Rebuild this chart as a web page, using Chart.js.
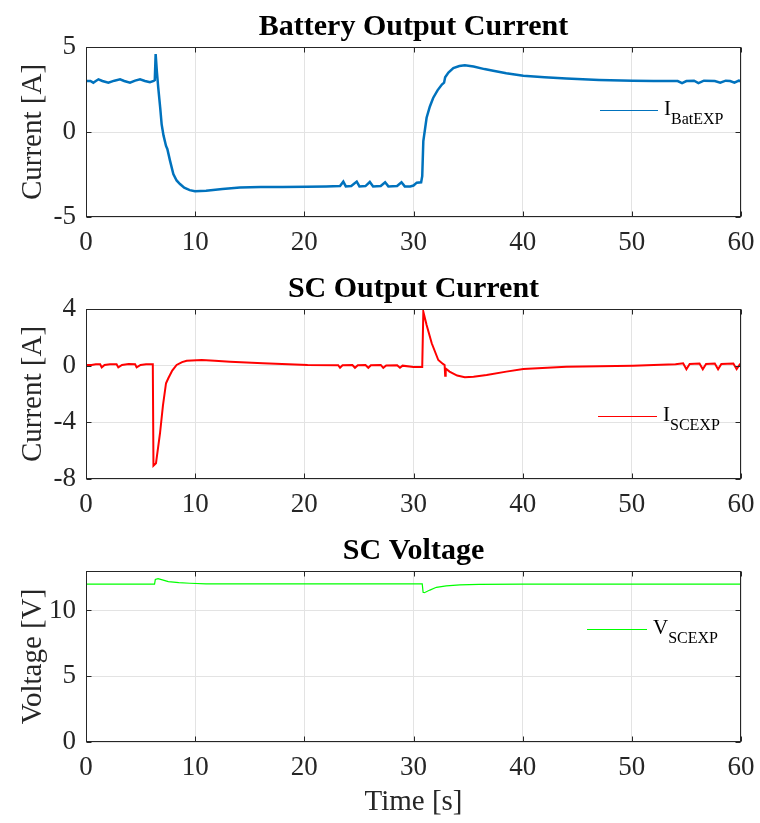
<!DOCTYPE html>
<html>
<head>
<meta charset="utf-8">
<script src="https://cdn.jsdelivr.net/npm/chart.js@4/dist/chart.umd.min.js"></script>
<style>
  body { margin: 0; background: #fff; }
  .wrap { position: absolute; left: 0; width: 760px; }
</style>
</head>
<body>
<div class="wrap" style="top:0"><canvas id="chartBat" width="760" height="262"></canvas></div>
<div class="wrap" style="top:262px"><canvas id="chartSC" width="760" height="262"></canvas></div>
<div class="wrap" style="top:524px"><canvas id="chartV" width="760" height="299"></canvas></div>
<script>
// battery output current (A)
const batT = [0, 0.4, 0.67, 0.9, 1.14, 1.5, 2.05, 2.6, 3.12, 3.5, 4.03, 4.5, 4.95, 5.4, 5.86, 6.2, 6.3, 6.38, 6.5, 6.62, 6.8, 6.93, 7.1, 7.33, 7.45, 7.7, 8.0, 8.3, 8.61, 9.0, 9.5, 9.98, 11, 12.5, 14.1, 16, 18, 20.2, 22, 23.27, 23.57, 23.8, 24.3, 24.8, 25.05, 25.6, 26.0, 26.3, 27.0, 27.4, 27.7, 28.5, 28.9, 29.2, 29.7, 30.0, 30.3, 30.7, 30.8, 30.9, 31.2, 31.5, 31.8, 32.2, 32.6, 32.8, 32.9, 33.2, 33.65, 34.2, 34.7, 35.5, 36.5, 37.3, 38.5, 40.06, 42, 44, 47, 50.1, 52, 54.2, 54.6, 55.0, 55.7, 56.1, 56.6, 57.6, 58.1, 58.6, 59.0, 59.4, 59.8, 60];
const batI = [3.0, 3.0, 2.9, 3.0, 3.1, 3.0, 2.9, 3.02, 3.1, 3.0, 2.9, 3.02, 3.1, 3.0, 2.93, 3.0, 3.05, 4.58, 3.5, 2.6, 1.4, 0.45, -0.2, -0.82, -1.0, -1.7, -2.47, -2.85, -3.06, -3.28, -3.42, -3.49, -3.45, -3.35, -3.26, -3.24, -3.23, -3.22, -3.2, -3.18, -2.92, -3.2, -3.18, -2.92, -3.2, -3.18, -2.94, -3.2, -3.18, -2.96, -3.2, -3.18, -2.96, -3.2, -3.2, -3.15, -2.98, -2.96, -2.6, -0.53, 0.84, 1.5, 2.0, 2.45, 2.79, 2.9, 3.22, 3.5, 3.76, 3.88, 3.92, 3.85, 3.7, 3.6, 3.45, 3.31, 3.22, 3.14, 3.06, 3.02, 3.0, 3.0, 2.88, 3.0, 3.02, 2.88, 3.02, 3.0, 2.9, 3.02, 3.0, 2.9, 3.02, 3.0];

// supercapacitor output current (A)
const scT = [0, 0.5, 0.9, 1.3, 1.44, 1.7, 2.2, 2.8, 2.96, 3.3, 3.9, 4.5, 4.64, 5.0, 5.5, 6.12, 6.18, 6.41, 6.78, 7.05, 7.33, 7.54, 7.9, 8.3, 8.8, 9.22, 10.6, 11.8, 13.2, 16.2, 20.3, 23.1, 23.27, 23.5, 24.4, 24.64, 24.9, 25.6, 25.86, 26.1, 27.0, 27.23, 27.5, 28.5, 28.76, 29.0, 30.0, 30.8, 30.9, 31.2, 31.67, 32.27, 32.7, 32.85, 32.9, 32.95, 33.3, 34.0, 34.7, 35.5, 36.7, 38.5, 40.06, 44, 50.1, 52, 54.0, 54.7, 55.0, 55.3, 56.2, 56.5, 56.8, 57.6, 57.9, 58.2, 59.3, 59.6, 59.9, 60];
const scI = [0.05, 0.05, 0.1, 0.1, -0.12, 0.05, 0.1, 0.1, -0.12, 0.05, 0.12, 0.1, -0.12, 0.05, 0.1, 0.1, -7.06, -6.89, -4.77, -2.8, -1.24, -0.89, -0.35, 0.05, 0.25, 0.35, 0.4, 0.35, 0.28, 0.17, 0.05, 0.03, -0.15, 0.03, 0.05, -0.15, 0.03, 0.05, -0.15, 0.03, 0.05, -0.15, 0.02, 0.03, -0.15, 0.0, -0.1, -0.1, 3.81, 2.87, 1.58, 0.4, 0.12, 0.05, -0.72, -0.2, -0.42, -0.7, -0.82, -0.78, -0.66, -0.42, -0.23, -0.07, 0.0, 0.05, 0.1, 0.17, -0.25, 0.12, 0.15, -0.25, 0.12, 0.15, -0.25, 0.12, 0.15, -0.25, 0.1, 0.1];

// supercapacitor voltage (V)
const vT = [0, 6.28, 6.35, 6.6, 7.0, 7.54, 8.5, 9.5, 11, 20, 30.8, 30.88, 31.0, 31.5, 32.1, 33, 34.25, 36, 40, 50, 60];
const vV = [12.0, 12.0, 12.35, 12.42, 12.32, 12.19, 12.12, 12.07, 12.02, 12.02, 12.02, 11.38, 11.35, 11.55, 11.76, 11.87, 11.94, 11.98, 12.0, 12.0, 12.0];

const serif = "'Liberation Serif', 'Times New Roman', serif";

function toPoints(xs, ys) {
    return xs.map((x, i) => ({x: x, y: ys[i]}));
}

// box around the plot with inward ticks on all four sides
const boxPlugin = {
    id: 'box',
    afterDraw(chart) {
        const ctx = chart.ctx;
        const a = chart.chartArea;
        const x = chart.scales.x;
        const y = chart.scales.y;
        const L = Math.round(a.left) + 0.5, R = Math.round(a.right) - 0.5;
        const T = Math.round(a.top) + 0.5, B = Math.round(a.bottom) - 0.5;
        ctx.save();
        ctx.strokeStyle = '#262626';
        ctx.lineWidth = 1;
        ctx.strokeRect(L, T, R - L, B - T);
        ctx.beginPath();
        x.ticks.forEach(t => {
            const px = Math.round(x.getPixelForValue(t.value)) + 0.5;
            ctx.moveTo(px, B); ctx.lineTo(px, B - 5);
            ctx.moveTo(px, T); ctx.lineTo(px, T + 5);
        });
        y.ticks.forEach(t => {
            const py = Math.round(y.getPixelForValue(t.value)) + 0.5;
            ctx.moveTo(L, py); ctx.lineTo(L + 5, py);
            ctx.moveTo(R, py); ctx.lineTo(R - 5, py);
        });
        ctx.stroke();
        ctx.restore();
    }
};

// legend with a subscripted label, like I_BatEXP
const subLegend = {
    id: 'subLegend',
    afterDraw(chart, args, opts) {
        const ctx = chart.ctx;
        const a = chart.chartArea;
        const x0 = a.right - opts.dx, x1 = x0 + opts.len;
        const y0 = a.top + opts.dy;
        ctx.save();
        ctx.strokeStyle = opts.color;
        ctx.lineWidth = 1;
        ctx.beginPath();
        ctx.moveTo(x0, y0 + 0.5);
        ctx.lineTo(x1, y0 + 0.5);
        ctx.stroke();
        ctx.fillStyle = '#000';
        ctx.textBaseline = 'alphabetic';
        ctx.font = '21px ' + serif;
        const tx = x1 + 6;
        ctx.fillText(opts.main, tx, y0 + 5);
        const w = ctx.measureText(opts.main).width;
        ctx.font = '16px ' + serif;
        ctx.fillText(opts.sub, tx + w, y0 + 14);
        ctx.restore();
    }
};

function makeChart(id, pts, color, width, title, yLabel, yMin, yMax, yStep, legend, xTitle, xHeight) {
    return new Chart(document.getElementById(id), {
        type: 'line',
        data: {
            datasets: [{
                data: pts,
                borderColor: color,
                borderWidth: width,
                pointRadius: 0,
                tension: 0,
                fill: false
            }]
        },
        options: {
            responsive: false,
            animation: false,
            layout: {padding: {left: 0, right: 19, top: 0, bottom: 0}},
            plugins: {
                legend: {display: false},
                tooltip: {enabled: false},
                title: {
                    display: true,
                    fullSize: false,
                    text: title,
                    color: '#000',
                    font: {family: serif, size: 30, weight: 'bold', lineHeight: 1.2},
                    padding: {top: 9, bottom: 2}
                },
                subLegend: legend
            },
            scales: {
                x: {
                    type: 'linear',
                    min: 0,
                    max: 60,
                    ticks: {stepSize: 10, color: '#262626', padding: 10, font: {family: serif, size: 27}},
                    grid: {color: '#e3e3e3', drawTicks: false},
                    border: {display: false},
                    title: {
                        display: !!xTitle,
                        text: xTitle || '',
                        color: '#262626',
                        font: {family: serif, size: 29},
                        padding: {top: 0, bottom: 3}
                    },
                    afterFit: s => { s.height = xHeight; s.paddingLeft = 0; s.paddingRight = 0; }
                },
                y: {
                    min: yMin,
                    max: yMax,
                    ticks: {stepSize: yStep, includeBounds: false, color: '#262626', padding: 10, font: {family: serif, size: 27}},
                    grid: {color: '#e3e3e3', drawTicks: false},
                    border: {display: false},
                    title: {
                        display: true,
                        text: yLabel,
                        color: '#262626',
                        font: {family: serif, size: 29},
                        padding: {top: 16, bottom: 0}
                    },
                    afterFit: s => { s.width = 86; }
                }
            }
        },
        plugins: [boxPlugin, subLegend]
    });
}

makeChart('chartBat', toPoints(batT, batI), '#0072BD', 2.5, 'Battery Output Current', 'Current [A]', -5, 5, 5,
    {main: 'I', sub: 'BatEXP', color: '#0072BD', dx: 141, len: 58, dy: 63}, null, 45);

makeChart('chartSC', toPoints(scT, scI), '#FF0000', 2, 'SC Output Current', 'Current [A]', -8, 4, 2,
    {main: 'I', sub: 'SCEXP', color: '#FF0000', dx: 143, len: 59, dy: 107}, null, 45);

makeChart('chartV', toPoints(vT, vV), '#00FF00', 1.2, 'SC Voltage', 'Voltage [V]', 0, 13, 5,
    {main: 'V', sub: 'SCEXP', color: '#00FF00', dx: 154, len: 60, dy: 58}, 'Time [s]', 81);
</script>
</body>
</html>
